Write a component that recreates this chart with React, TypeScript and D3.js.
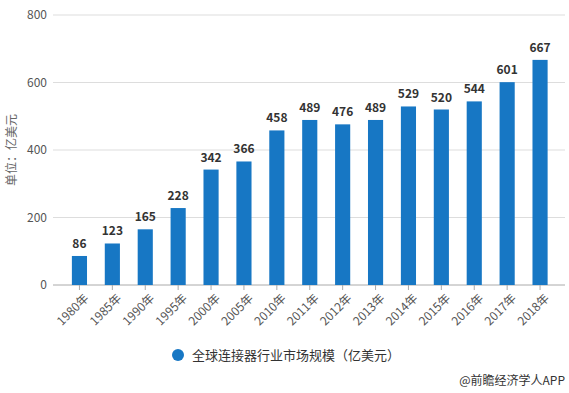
import React, { useEffect, useRef } from 'react';
import * as d3 from 'd3';

const years = ['1980年', '1985年', '1990年', '1995年', '2000年', '2005年', '2010年', '2011年', '2012年', '2013年', '2014年', '2015年', '2016年', '2017年', '2018年'];
const values = [86, 123, 165, 228, 342, 366, 458, 489, 476, 489, 529, 520, 544, 601, 667];
const yTicks = [0, 200, 400, 600, 800];
const seriesName = '全球连接器行业市场规模（亿美元）';

export default function App() {
  const ref = useRef<SVGSVGElement>(null);

  useEffect(() => {
    const width = 569;
    const height = 393;
    const font = '"Noto Sans CJK SC", "Noto Sans", sans-serif';
    const svg = d3.select(ref.current)
      .attr('width', width)
      .attr('height', height)
      .style('font-family', font);
    svg.selectAll('*').remove();

    const xScale = d3.scaleBand()
      .domain(years)
      .range([63, 556.5])
      .paddingInner(0.54)
      .paddingOuter(0.27);

    const yScale = d3.scaleLinear()
      .domain([0, 800])
      .range([285, 15]);

    // grid lines
    svg.append('g')
      .selectAll('line')
      .data(yTicks)
      .enter()
      .append('line')
      .attr('x1', 53)
      .attr('x2', 565)
      .attr('y1', d => yScale(d))
      .attr('y2', d => yScale(d))
      .attr('stroke', d => (d === 0 ? '#aaa' : '#ddd'))
      .attr('stroke-width', 1);

    // y tick labels
    svg.append('g')
      .selectAll('text')
      .data(yTicks)
      .enter()
      .append('text')
      .attr('x', 47)
      .attr('y', d => yScale(d))
      .attr('dy', '0.35em')
      .attr('text-anchor', 'end')
      .attr('fill', '#555')
      .style('font-size', '12px')
      .text(d => d);

    // y title
    svg.append('text')
      .attr('transform', 'translate(16,150) rotate(-90)')
      .attr('text-anchor', 'middle')
      .attr('fill', '#666')
      .style('font-size', '12px')
      .text('单位：亿美元');

    // bars
    svg.append('g')
      .selectAll('rect')
      .data(values)
      .enter()
      .append('rect')
      .attr('x', (d, i) => xScale(years[i])!)
      .attr('y', d => yScale(d))
      .attr('width', xScale.bandwidth())
      .attr('height', d => yScale(0) - yScale(d))
      .attr('fill', '#1777c4');

    // value labels
    svg.append('g')
      .selectAll('text')
      .data(values)
      .enter()
      .append('text')
      .attr('x', (d, i) => xScale(years[i])! + xScale.bandwidth() / 2)
      .attr('y', d => yScale(d) - 8)
      .attr('text-anchor', 'middle')
      .attr('fill', '#333')
      .style('font-size', '12px')
      .style('font-weight', 'bold')
      .text(d => d);

    // x ticks and labels
    const xg = svg.append('g');
    xg.selectAll('line')
      .data(years)
      .enter()
      .append('line')
      .attr('x1', d => xScale(d)! + xScale.bandwidth() / 2)
      .attr('x2', d => xScale(d)! + xScale.bandwidth() / 2)
      .attr('y1', 285)
      .attr('y2', 290)
      .attr('stroke', '#aaa');
    xg.selectAll('text')
      .data(years)
      .enter()
      .append('text')
      .attr('transform', d => `translate(${xScale(d)! + xScale.bandwidth() / 2 + 4},${293}) rotate(-45)`)
      .attr('text-anchor', 'end')
      .attr('dy', '0.7em')
      .attr('fill', '#555')
      .style('font-size', '12px')
      .text(d => d);

    // legend
    svg.append('circle')
      .attr('cx', 178)
      .attr('cy', 355)
      .attr('r', 6)
      .attr('fill', '#1777c4');
    svg.append('text')
      .attr('x', 192)
      .attr('y', 355)
      .attr('dy', '0.35em')
      .attr('fill', '#333')
      .style('font-size', '13px')
      .text(seriesName);

    svg.append('text')
      .attr('x', 565)
      .attr('y', 381)
      .attr('dy', '0.35em')
      .attr('text-anchor', 'end')
      .attr('fill', '#333')
      .style('font-size', '12px')
      .text('@前瞻经济学人APP');
  }, []);

  return <svg ref={ref} style={{ position: 'absolute', left: 0, top: 0 }} />;
}
